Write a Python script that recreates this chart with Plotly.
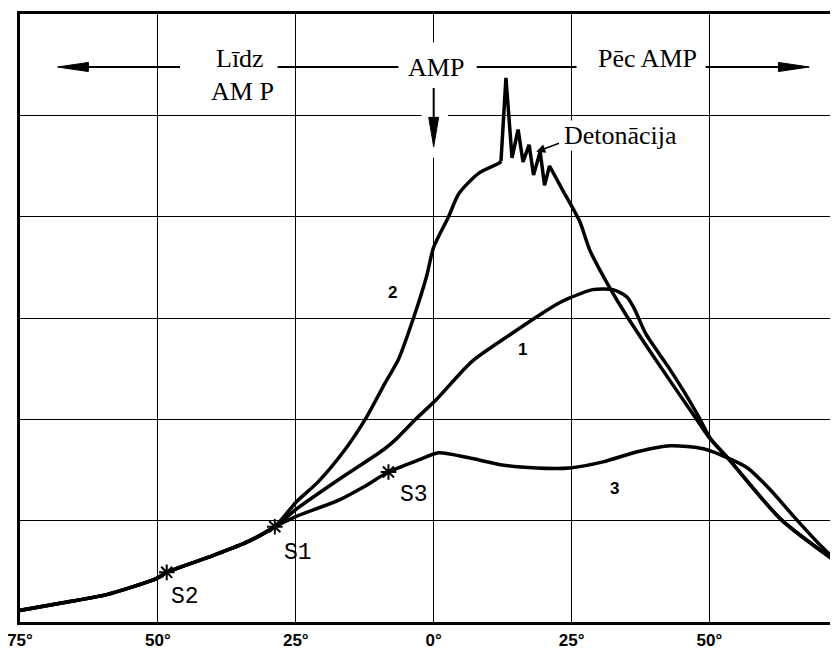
import plotly.graph_objects as go

# crank angle (deg) and pressure (grid units)
theta_1 = [-75.5, -67.2, -59.3, -50.2, -48.4, -39.8, -33.8, -28.8, -25.0, -16.0,
           -9.1, -6.9, -3.1, 0.4, 6.9, 13.7, 19.2, 22.8, 25.2, 28.8, 32.5, 35.0,
           36.3, 38.5, 42.5, 45.3, 47.9, 50.3, 53.3, 63.0, 73.6]
p_1 = [0.11, 0.19, 0.27, 0.43, 0.49, 0.66, 0.79, 0.94, 1.11, 1.45,
       1.70, 1.80, 2.01, 2.19, 2.57, 2.83, 3.03, 3.15, 3.21, 3.28, 3.28, 3.21,
       3.10, 2.84, 2.52, 2.28, 2.04, 1.80, 1.62, 1.01, 0.57]

theta_2 = [-75.5, -67.2, -59.3, -50.2, -48.4, -39.8, -33.8, -28.8, -25.0, -21.0,
           -16.1, -12.2, -8.8, -6.4, -3.6, -1.3, 0.0, 2.7, 4.6, 8.2, 11.9, 12.2,
           13.1, 14.2, 15.3, 16.2, 17.3, 18.1, 19.3, 20.1, 21.0, 23.7, 26.5,
           28.3, 31.9, 35.0, 41.1, 47.4, 49.8, 53.3, 63.0, 73.6]
p_2 = [0.11, 0.19, 0.27, 0.43, 0.49, 0.66, 0.79, 0.94, 1.18, 1.38,
       1.70, 2.02, 2.36, 2.59, 3.01, 3.41, 3.70, 4.00, 4.23, 4.43, 4.53, 4.55,
       5.37, 4.58, 4.86, 4.54, 4.71, 4.41, 4.64, 4.31, 4.50, 4.23, 3.95,
       3.67, 3.30, 3.02, 2.52, 2.02, 1.83, 1.62, 1.01, 0.57]
knock_start, knock_end = 21, 31   # jagged stretch of curve 2

theta_3 = [-75.5, -67.2, -59.3, -50.2, -48.4, -39.8, -33.8, -28.8, -25.0, -17.3,
           -12.8, -8.2, -2.7, 0.9, 6.4, 12.4, 18.6, 24.6, 30.7, 36.9, 42.9, 48.9,
           53.3, 56.9, 61.1, 65.3, 69.7, 73.6]
p_3 = [0.11, 0.19, 0.27, 0.43, 0.49, 0.66, 0.79, 0.94, 1.04, 1.20,
       1.33, 1.48, 1.60, 1.67, 1.62, 1.55, 1.52, 1.52, 1.58, 1.68, 1.74, 1.71,
       1.62, 1.52, 1.30, 1.04, 0.78, 0.57]

# spark / ignition points
s_names = ["S2", "S1", "S3"]
s_theta = [-48.4, -28.8, -8.2]
s_p = [0.49, 0.94, 1.48]

tick_vals = [-75, -50, -25, 0, 25, 50]
tick_text = ["75°", "50°", "25°", "0°", "25°", "50°"]


def curve(x, y, shape="spline"):
    return go.Scatter(x=x, y=y, mode="lines", hoverinfo="skip",
                      line=dict(color="black", width=3.5, shape=shape, smoothing=0.7))


fig = go.Figure()
fig.add_trace(curve(theta_1, p_1))
fig.add_trace(curve(theta_3, p_3))
fig.add_trace(curve(theta_2[:knock_start + 1], p_2[:knock_start + 1]))
fig.add_trace(curve(theta_2[knock_start:knock_end + 1], p_2[knock_start:knock_end + 1], "linear"))
fig.add_trace(curve(theta_2[knock_end:], p_2[knock_end:]))
fig.add_trace(go.Scatter(
    x=s_theta, y=s_p, mode="markers", hoverinfo="skip",
    marker=dict(symbol="asterisk-open", size=13, color="black",
                line=dict(color="black", width=2)),
))

serif = dict(family="Liberation Serif", size=26, color="black")
mono = dict(family="Liberation Mono", size=23, color="black")
bold = dict(family="Liberation Sans", size=17, color="black", weight="bold")

notes = [
    ("Līdz", -35.2, 5.56, serif, None),
    ("AM P", -34.7, 5.24, serif, None),
    ("AMP", 0.4, 5.47, serif, "white"),
    ("Pēc AMP", 38.7, 5.56, serif, None),
    ("Detonācija", 33.8, 4.80, serif, "white"),
    ("S2", -45.1, 0.25, mono, None),
    ("S1", -24.6, 0.68, mono, None),
    ("S3", -3.6, 1.25, mono, None),
    ("1", 16.1, 2.69, bold, None),
    ("2", -7.5, 3.25, bold, None),
    ("3", 32.8, 1.32, bold, None),
]
for txt, x, y, f, bg in notes:
    fig.add_annotation(x=x, y=y, text=txt, showarrow=False, font=f,
                       bgcolor=bg, borderpad=0)

# arrow pointing at the knock oscillations
fig.add_annotation(x=18.6, y=4.64, ax=23.0, ay=4.73, axref="x", ayref="y",
                   text="", showarrow=True, arrowhead=2, arrowsize=1.2,
                   arrowwidth=1.5, arrowcolor="black")

ya = 5.477
shapes = [
    # gaps in the grid
    dict(type="rect", x0=-1.3, x1=1.3, y0=5.27, y1=5.72, fillcolor="white", line_width=0),
    dict(type="rect", x0=-2.2, x1=2.6, y0=4.96, y1=5.05, fillcolor="white", line_width=0),
    dict(type="rect", x0=-1.3, x1=1.3, y0=4.58, y1=4.69, fillcolor="white", line_width=0),
    # direction lines
    dict(type="line", x0=-66, x1=-46.0, y0=ya, y1=ya, line=dict(color="black", width=2)),
    dict(type="line", x0=-28.3, x1=-6.4, y0=ya, y1=ya, line=dict(color="black", width=2)),
    dict(type="line", x0=7.8, x1=25.9, y0=ya, y1=ya, line=dict(color="black", width=2)),
    dict(type="line", x0=49.3, x1=64, y0=ya, y1=ya, line=dict(color="black", width=2)),
    dict(type="line", x0=0, x1=0, y0=5.27, y1=4.95, line=dict(color="black", width=2)),
    # arrow heads
    dict(type="path", path=f"M -68.2 {ya} L -62.6 {ya + 0.045} L -62.6 {ya - 0.045} Z",
         fillcolor="black", line=dict(color="black", width=1)),
    dict(type="path", path=f"M 68.1 {ya} L 62.5 {ya + 0.045} L 62.5 {ya - 0.045} Z",
         fillcolor="black", line=dict(color="black", width=1)),
    dict(type="path", path="M 0 4.69 L -0.9 4.98 L 0.9 4.98 Z",
         fillcolor="black", line=dict(color="black", width=1)),
]
for s in shapes:
    s.setdefault("layer", "above")
    s["xref"] = "x"
    s["yref"] = "y"
fig.update_layout(shapes=shapes)

# page body adds an 8px margin, so the figure is sized 8px short
fig.update_layout(
    width=830, height=641,
    margin=dict(l=12, r=0, t=6, b=27),
    paper_bgcolor="white", plot_bgcolor="white",
    showlegend=False,
    xaxis=dict(range=[-75, 73.3], tickvals=tick_vals, ticktext=tick_text,
               automargin=False, ticklabeloverflow="allow",
               showgrid=True, gridcolor="black", gridwidth=1.3, zeroline=False,
               showline=True, linecolor="black", linewidth=3, mirror=True,
               ticks="outside", ticklen=1, tickcolor="rgba(0,0,0,0)",
               tickfont=dict(family="Liberation Sans", size=17,
                             color="black", weight="bold")),
    yaxis=dict(range=[0, 6], tick0=0, dtick=1, showticklabels=False,
               automargin=False,
               showgrid=True, gridcolor="black", gridwidth=1.3, zeroline=False,
               showline=True, linecolor="black", linewidth=3),
)

fig.write_html("out.html")
